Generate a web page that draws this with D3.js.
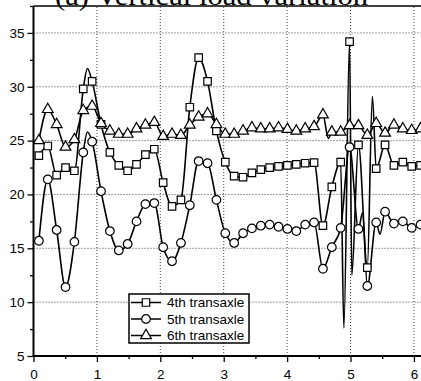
<!DOCTYPE html>
<html>
<head>
<meta charset="utf-8">
<script src="https://cdn.jsdelivr.net/npm/d3@7"></script>
<style>
  body { margin: 0; background: #fff; }
  svg { display: block; }
  .tick text { font-family: "Liberation Sans", Arial, sans-serif; font-size: 13.5px; fill: #000; }
</style>
</head>
<body>
<svg id="chart" width="421" height="381"></svg>
<script>
// sample times (s) where the markers sit
const times = [0.085, 0.225, 0.365, 0.505, 0.645, 0.785, 0.925, 1.065, 1.205, 1.345,
  1.485, 1.625, 1.765, 1.905, 2.045, 2.185, 2.325, 2.465, 2.605, 2.745,
  2.885, 3.025, 3.165, 3.305, 3.445, 3.585, 3.725, 3.865, 4.005, 4.145,
  4.285, 4.425, 4.565, 4.705, 4.845, 4.985, 5.125, 5.265, 5.405, 5.545,
  5.685, 5.825, 5.965, 6.105];

const load4th = [23.6, 24.5, 21.8, 22.5, 22.2, 29.8, 30.5, 26.5, 23.9, 22.7,
  22.2, 22.8, 23.7, 24.2, 21.1, 18.9, 19.5, 28.1, 32.7, 30.5,
  25.9, 23.0, 21.7, 21.6, 22.0, 22.3, 22.5, 22.6, 22.7, 22.8,
  22.9, 22.95, 17.1, 20.7, 23.0, 34.2, 24.6, 13.2, 22.4, 24.6,
  22.7, 23.0, 22.6, 22.7];

const load5th = [15.7, 21.4, 16.7, 11.4, 15.6, 23.9, 24.9, 20.3, 16.6, 14.8,
  15.4, 17.5, 19.1, 19.2, 15.1, 13.8, 15.5, 19.0, 23.1, 22.9,
  19.5, 16.4, 15.5, 16.4, 16.85, 17.1, 17.2, 17.0, 16.8, 16.6,
  17.2, 17.4, 13.1, 15.1, 16.9, 24.4, 16.8, 11.5, 17.4, 18.4,
  17.3, 17.5, 16.9, 17.2];

const load6th = [25.0, 27.9, 26.5, 24.4, 25.1, 27.8, 28.2, 26.6, 25.9, 25.6,
  25.6, 26.1, 26.45, 26.7, 25.4, 25.6, 25.5, 26.45, 27.2, 27.5,
  26.5, 25.6, 25.6, 25.9, 26.2, 26.1, 26.1, 26.2, 26.05, 25.9,
  26.1, 26.3, 27.4, 25.8, 25.8, 26.4, 26.4, 25.5, 26.6, 25.7,
  26.45, 26.1, 25.95, 26.1];

// extra points the curves pass through between markers (peaks, spikes)
const extra4th = [[0.85, 31.7], [4.895, 7.6], [5.02, 12.5], [5.345, 29.1]];
const extra5th = [[0.85, 25.8], [5.19, 18.3], [5.465, 16.3]];
const extra6th = [[4.65, 25.2]];

const xTicks = [0, 1, 2, 3, 4, 5, 6];
const xMinor = [0.5, 1.5, 2.5, 3.5, 4.5, 5.5];
const yTicks = [5, 10, 15, 20, 25, 30, 35];
const yMinor = [7.5, 12.5, 17.5, 22.5, 27.5, 32.5, 37.5];

const seriesNames = ["4th transaxle", "5th transaxle", "6th transaxle"];
const seriesShapes = [d3.symbolSquare, d3.symbolCircle, d3.symbolTriangle];
const seriesSizes = [56, 58, 50];

const svg = d3.select("#chart");
const width = 421, height = 381;

const x = d3.scaleLinear().domain([0, 6.2]).range([33.5, 426.6]);
const y = d3.scaleLinear().domain([5, 37.5]).range([356, 6]);

// clip for plot area
svg.append("clipPath").attr("id", "plot-clip")
  .append("rect").attr("x", 34).attr("y", 0).attr("width", width - 34).attr("height", 356);

// grid
const grid = svg.append("g").attr("stroke", "#444").attr("stroke-dasharray", "1,2").attr("stroke-width", 1);
grid.selectAll("line.gx").data(xTicks.slice(1)).join("line")
  .attr("x1", d => x(d)).attr("x2", d => x(d))
  .attr("y1", y(5)).attr("y2", y(37.5));
grid.selectAll("line.gy").data(yTicks.slice(1)).join("line")
  .attr("x1", x(0)).attr("x2", width)
  .attr("y1", d => y(d)).attr("y2", d => y(d));

// series
const allSeries = [
  { values: load4th, extra: extra4th },
  { values: load5th, extra: extra5th },
  { values: load6th, extra: extra6th },
];

const line = d3.line()
  .x(d => x(d[0]))
  .y(d => y(d[1]))
  .curve(d3.curveMonotoneX);

const plot = svg.append("g").attr("clip-path", "url(#plot-clip)");

allSeries.forEach((s, i) => {
  const pts = times.map((t, k) => [t, s.values[k]]).concat(s.extra)
    .sort((a, b) => a[0] - b[0]);
  plot.append("path")
    .datum(pts)
    .attr("fill", "none")
    .attr("stroke", "#000")
    .attr("stroke-width", 1.6)
    .attr("stroke-linejoin", "round")
    .attr("d", line);
});

allSeries.forEach((s, i) => {
  const sym = d3.symbol().type(seriesShapes[i]).size(seriesSizes[i]);
  plot.append("g").selectAll("path")
    .data(times.map((t, k) => [t, s.values[k]]))
    .join("path")
    .attr("transform", d => `translate(${x(d[0])},${y(d[1])})`)
    .attr("d", sym)
    .attr("fill", "#fff")
    .attr("stroke", "#000")
    .attr("stroke-width", 1.2);
});

// axes
const xAxis = svg.append("g")
  .attr("transform", `translate(0,${y(5)})`)
  .call(d3.axisBottom(x).tickValues(xTicks).tickSize(6).tickPadding(7).tickFormat(d3.format("d")));
svg.append("g")
  .attr("transform", `translate(0,${y(5)})`)
  .call(d3.axisBottom(x).tickValues(xMinor).tickSize(3).tickFormat(""))
  .call(g => g.select(".domain").remove());

const yAxis = svg.append("g")
  .attr("transform", `translate(${x(0)},0)`)
  .call(d3.axisLeft(y).tickValues(yTicks).tickSize(6).tickPadding(3).tickFormat(d3.format("d")));
svg.append("g")
  .attr("transform", `translate(${x(0)},0)`)
  .call(d3.axisLeft(y).tickValues(yMinor).tickSize(3.5).tickFormat(""))
  .call(g => g.select(".domain").remove());

svg.selectAll(".domain").attr("stroke-width", 2).attr("stroke", "#000");
svg.selectAll(".tick line").attr("stroke-width", 1.3).attr("stroke", "#000");
xAxis.select(".domain").attr("d", `M${x(0)},0H${width}`);
yAxis.select(".domain").attr("d", `M0,${y(5)}V${y(37.5)}`);

// top frame
svg.append("line")
  .attr("x1", x(0)).attr("x2", width)
  .attr("y1", y(37.5)).attr("y2", y(37.5))
  .attr("stroke", "#000").attr("stroke-width", 1.5);

// title (cut off at the top of the picture, as in the source)
svg.append("text")
  .attr("x", 55).attr("y", 5)
  .attr("font-family", "'Liberation Serif', 'Times New Roman', serif")
  .attr("font-size", 28)
  .attr("textLength", 313)
  .attr("lengthAdjust", "spacingAndGlyphs")
  .text("(a)  Vertical load variation");

// legend
const legend = svg.append("g");
legend.append("rect")
  .attr("x", 129).attr("y", 294).attr("width", 120).attr("height", 49)
  .attr("fill", "#fff").attr("stroke", "#000").attr("stroke-width", 1.5);
const rowY = [302.5, 319, 335.5];
seriesNames.forEach((name, i) => {
  const g = legend.append("g").attr("transform", `translate(0,${rowY[i]})`);
  g.append("line").attr("x1", 131).attr("x2", 161).attr("y1", 0).attr("y2", 0)
    .attr("stroke", "#000").attr("stroke-width", 1.5);
  g.append("path")
    .attr("transform", "translate(146,0)")
    .attr("d", d3.symbol().type(seriesShapes[i]).size(seriesSizes[i]))
    .attr("fill", "#fff").attr("stroke", "#000").attr("stroke-width", 1.2);
  g.append("text")
    .attr("x", 167).attr("y", 0).attr("dy", "0.35em")
    .attr("font-family", "'Liberation Sans', Arial, sans-serif")
    .attr("font-size", 13.5)
    .text(name);
});
</script>
</body>
</html>
